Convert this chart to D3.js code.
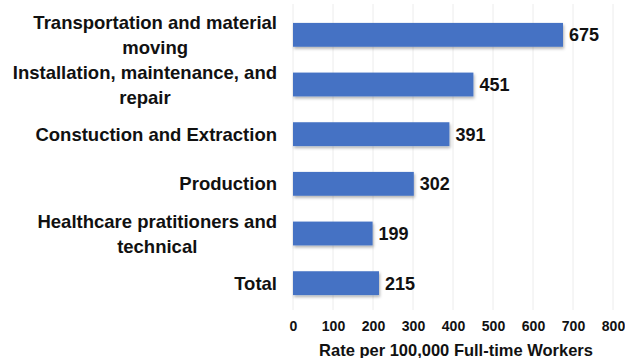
<!DOCTYPE html>
<html>
<head>
<meta charset="utf-8">
<script src="https://cdn.jsdelivr.net/npm/d3@7"></script>
<style>
  html, body { margin: 0; padding: 0; background: #ffffff; }
  svg { display: block; font-family: "Liberation Sans", Arial, sans-serif; }
</style>
</head>
<body>
<svg id="chart" width="625" height="358"></svg>
<script>
// Occupation groups (top to bottom) and their rates per 100,000 full-time workers
const categories = [
  ["Transportation and material", "moving"],
  ["Installation, maintenance, and", "repair"],
  ["Constuction and Extraction"],
  ["Production"],
  ["Healthcare pratitioners and", "technical"],
  ["Total"]
];
const rates = [675, 451, 391, 302, 199, 215];
const tickValues = [0, 100, 200, 300, 400, 500, 600, 700, 800];
const axisTitle = "Rate per 100,000 Full-time Workers";

const svg = d3.select("#chart");
const plotLeft = 293, plotRight = 613, plotTop = 10, plotBottom = 308;

const x = d3.scaleLinear().domain([0, 800]).range([plotLeft, plotRight]);
const y = d3.scaleBand()
  .domain(d3.range(categories.length))
  .range([plotTop, plotBottom])
  .paddingInner(0.52)
  .paddingOuter(0.26);

// soft drop shadow under the bars
const defs = svg.append("defs");
const f = defs.append("filter").attr("id", "shadow")
  .attr("x", "-5%").attr("y", "-30%").attr("width", "115%").attr("height", "180%");
f.append("feDropShadow").attr("dx", 1).attr("dy", 2)
  .attr("stdDeviation", 1.4).attr("flood-color", "#000").attr("flood-opacity", 0.3);

// vertical gridlines
svg.append("g").selectAll("line").data(tickValues).join("line")
  .attr("x1", d => x(d)).attr("x2", d => x(d))
  .attr("y1", 4).attr("y2", 310)
  .attr("stroke", "#ececec").attr("stroke-width", 1);

// bars
svg.append("g").selectAll("rect").data(rates).join("rect")
  .attr("x", x(0))
  .attr("y", (d, i) => y(i))
  .attr("width", d => x(d) - x(0))
  .attr("height", y.bandwidth())
  .attr("fill", "#4472C4")
  .attr("filter", "url(#shadow)");

// value labels
svg.append("g").selectAll("text").data(rates).join("text")
  .attr("x", d => x(d) + 6)
  .attr("y", (d, i) => y(i) + y.bandwidth() / 2 + 6.5)
  .attr("font-size", 18).attr("font-weight", "bold").attr("fill", "#111")
  .text(d => d);

// category labels: block right-aligned, lines centred on each other
const labelRight = 277;
const lineGap = 25;
const catG = svg.append("g");
categories.forEach((lines, i) => {
  const cy = y(i) + y.bandwidth() / 2;
  const t = catG.append("text")
    .attr("font-size", 18.5).attr("font-weight", "bold").attr("fill", "#111")
    .attr("text-anchor", "middle");
  const spans = lines.map((ln, k) => t.append("tspan")
    .attr("y", cy + (k - (lines.length - 1) / 2) * lineGap + 6.6)
    .text(ln));
  const maxW = d3.max(spans, s => s.node().getComputedTextLength());
  spans.forEach(s => s.attr("x", labelRight - maxW / 2));
});

// x axis tick labels
const axis = d3.axisBottom(x).tickValues(tickValues).tickSize(0).tickPadding(0);
const ax = svg.append("g").attr("transform", "translate(0,318)").call(axis);
ax.select(".domain").remove();
ax.selectAll("text")
  .attr("font-size", 14).attr("font-weight", "bold").attr("fill", "#111")
  .attr("font-family", "Liberation Sans, Arial, sans-serif")
  .attr("dy", "0.95em");

// axis title
svg.append("text")
  .attr("x", (x(0) + x(800)) / 2 + 3).attr("y", 356)
  .attr("text-anchor", "middle")
  .attr("font-size", 16.5).attr("font-weight", "bold").attr("fill", "#111")
  .text(axisTitle);
</script>
</body>
</html>
